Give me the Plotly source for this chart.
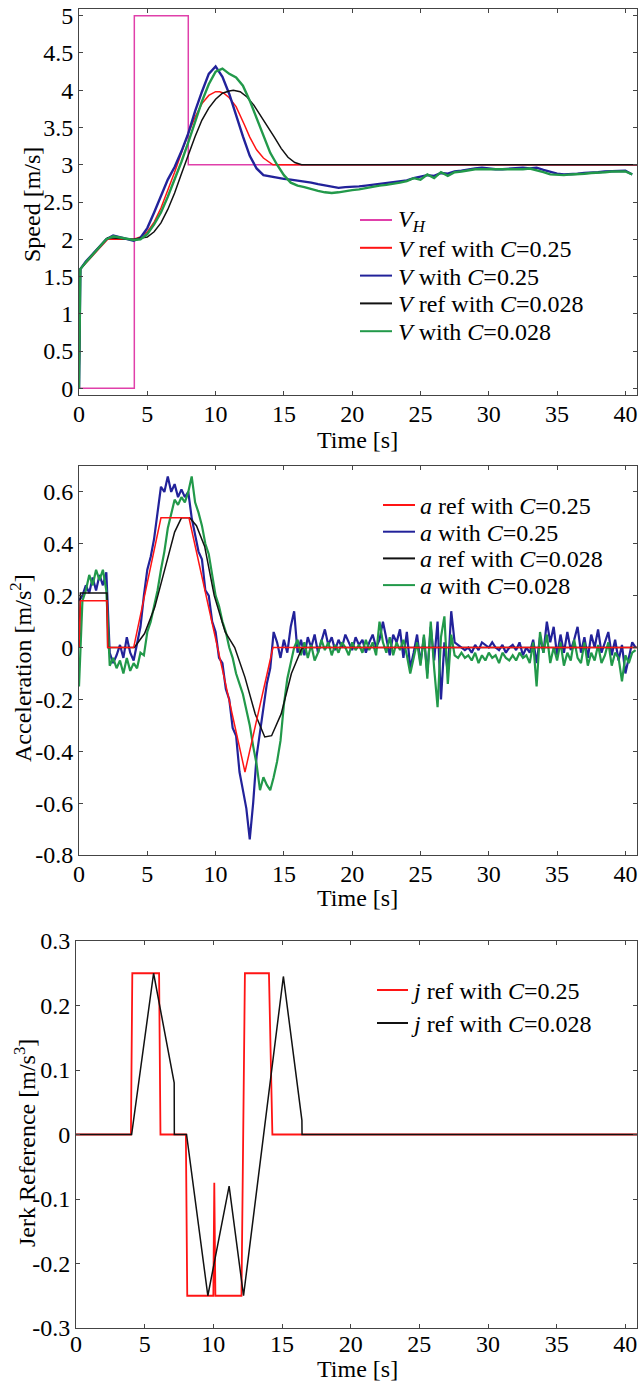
import numpy as np
import plotly.graph_objects as go

# ================= DATA =================
# ---- Speed panel ----
vh_t = [0.0, 4.05, 4.05, 8.0, 8.0, 40.85]
vh_v = [0.0, 0.0, 5.0, 5.0, 3.0, 3.0]

vref025_t = [0, 0.1, 1.0, 2.1, 4.0, 4.5, 5.0, 5.5, 6.0, 6.5, 7.0, 7.5, 8.0, 8.5, 9.0, 9.5,
             10.0, 10.3, 10.6, 11.0, 11.5, 12.1, 12.5, 13.0, 13.5, 14.2, 40.85]
vref025_v = [0, 1.6, 1.78, 2.0, 2.0, 2.03, 2.1, 2.23, 2.42, 2.65, 2.9, 3.16, 3.42, 3.64, 3.82, 3.93,
             3.98, 3.98, 3.96, 3.9, 3.78, 3.54, 3.37, 3.2, 3.09, 3.0, 3.0]

vref028_t = [0, 0.1, 1.0, 2.1, 4.0, 5.0, 5.5, 6.0, 6.5, 7.0, 7.5, 8.0, 8.5, 9.0, 9.5, 10.0, 10.5,
             11.0, 11.3, 11.8, 12.3, 12.8, 13.3, 13.8, 14.3, 14.8, 15.3, 15.8, 16.3, 40.85]
vref028_v = [0, 1.6, 1.8, 2.02, 2.0, 2.03, 2.1, 2.22, 2.4, 2.62, 2.88, 3.14, 3.38, 3.6, 3.76, 3.88, 3.96,
             3.99, 4.0, 3.98, 3.91, 3.8, 3.66, 3.52, 3.37, 3.22, 3.1, 3.03, 3.0, 3.0]

# measured speed: samples at t = 0, 0.1, then every 0.5 s from 0.5 s
v025_meas = [0.0, 1.6,
             1.7, 1.8, 1.9, 2.0, 2.05, 2.03, 2.01, 1.98,
             2.02, 2.15, 2.36, 2.58, 2.8, 2.97, 3.18, 3.42,
             3.72, 3.98, 4.22, 4.32, 4.18, 3.95, 3.66, 3.38,
             3.12, 2.95, 2.86, 2.84, 2.83, 2.81, 2.8, 2.79,
             2.77, 2.76, 2.74, 2.72, 2.7, 2.69, 2.7, 2.7,
             2.71, 2.72, 2.73, 2.74, 2.75, 2.76, 2.78, 2.79,
             2.82, 2.84, 2.86, 2.85, 2.89, 2.88, 2.91, 2.92,
             2.94, 2.95, 2.96, 2.95, 2.94, 2.94, 2.95, 2.95,
             2.96, 2.95, 2.96, 2.93, 2.9, 2.88, 2.87, 2.87,
             2.88, 2.89, 2.9, 2.9, 2.91, 2.91, 2.92, 2.92,
             2.87]
v028_meas = [0.0, 1.6,
             1.69, 1.79, 1.9, 2.0, 2.04, 2.02, 2.0, 1.99,
             2.0, 2.07, 2.2, 2.36, 2.57, 2.8, 3.04, 3.3,
             3.58, 3.85, 4.08, 4.25, 4.29, 4.22, 4.17, 4.06,
             3.86, 3.63, 3.38, 3.16, 3.0, 2.86, 2.76, 2.72,
             2.7, 2.67, 2.65, 2.63, 2.62, 2.63, 2.64, 2.66,
             2.67, 2.69, 2.7, 2.72, 2.73, 2.74, 2.76, 2.78,
             2.82, 2.8, 2.87, 2.82, 2.9, 2.85, 2.9, 2.91,
             2.93, 2.94, 2.94, 2.94, 2.93, 2.93, 2.94, 2.94,
             2.94, 2.95, 2.93, 2.9, 2.87, 2.86, 2.86, 2.87,
             2.87, 2.88, 2.89, 2.9, 2.9, 2.91, 2.91, 2.91,
             2.87]

# ---- Acceleration panel ----
aref025_t = [0, 0.1, 2.05, 2.1, 4.0, 6.0, 8.05, 12.15, 14.2, 40.85]
aref025_v = [0, 0.18, 0.18, 0, 0, 0.5, 0.5, -0.48, 0, 0]

aref028_t = [0, 0.1, 2.05, 2.1, 4.05, 4.8, 5.55, 6.3, 7.0, 7.5, 8.1, 8.6, 9.2, 9.9, 10.7, 11.4,
             12.15, 12.9, 13.6, 14.1, 14.8, 15.55, 16.3, 16.45, 40.85]
aref028_v = [0, 0.21, 0.21, 0, 0, 0.054, 0.156, 0.30, 0.445, 0.5, 0.5, 0.47, 0.39, 0.2, 0.06, 0.0,
             -0.115, -0.256, -0.345, -0.34, -0.256, -0.1, -0.005, 0, 0]

# measured acceleration, one sample every 0.25 s from 0 s
a025_meas = [0.18, 0.2, 0.24, 0.21, 0.27, 0.22, 0.28, 0.24,
             0.29, -0.02, -0.06, -0.03, 0.01, -0.04, 0.04, -0.02,
             -0.05, 0.02, 0.08, 0.2, 0.3, 0.35, 0.42, 0.52,
             0.62, 0.6, 0.66, 0.6, 0.63, 0.58, 0.61, 0.58,
             0.6, 0.5, 0.44, 0.37, 0.34, 0.22, 0.2, 0.1,
             0.06, -0.04, -0.06, -0.16, -0.2, -0.31, -0.34, -0.48,
             -0.55, -0.62, -0.74, -0.6, -0.42, -0.33, -0.24, -0.14,
             -0.08, 0.06, 0.02, -0.04, 0.03, -0.02, 0.08, 0.14,
             -0.02, 0.03, -0.03, 0.04, 0.0, 0.05, -0.02, 0.03,
             0.07, 0.01, 0.04, -0.01, 0.03, 0.0, 0.05, 0.02,
             -0.01, 0.04, 0.01, 0.03, -0.02, 0.02, 0.05, 0.0,
             0.03, 0.1, 0.04, -0.03, 0.05, 0.02, 0.07, -0.04,
             0.06, -0.08, -0.02, 0.05, -0.06, 0.04, -0.1, 0.08,
             -0.05, 0.1, -0.2, 0.02, -0.1, 0.14, 0.02, 0.01,
             0.0, -0.01, 0.0, -0.02, 0.01, -0.01, 0.02, 0.01,
             0.0, 0.02, 0.0, -0.01, 0.01, -0.02, 0.0, 0.01,
             -0.01, 0.02, -0.03, 0.0, -0.02, 0.03, -0.06, 0.04,
             -0.02, 0.1, 0.02, 0.08, -0.03, 0.05, -0.02, 0.06,
             -0.01, 0.03, 0.08, -0.02, 0.04, -0.04, 0.05, 0.0,
             0.07, -0.02, 0.02, 0.06, -0.03, 0.03, -0.05, 0.01,
             -0.1, -0.04, 0.02, 0.0]
a028_meas = [-0.15, 0.18, 0.22, 0.28, 0.24, 0.3, 0.26, 0.3,
             0.22, -0.07, -0.04, -0.08, -0.05, -0.1, -0.04, -0.09,
             -0.06, -0.08, -0.02, -0.03, 0.06, 0.1, 0.16, 0.22,
             0.3, 0.37, 0.46, 0.52, 0.57, 0.55, 0.58, 0.56,
             0.6, 0.66, 0.56, 0.52, 0.47, 0.4, 0.36, 0.28,
             0.2, 0.16, 0.1, 0.06, 0.0, -0.04, -0.1, -0.14,
             -0.18, -0.24, -0.3, -0.38, -0.45, -0.55, -0.5, -0.53,
             -0.55, -0.5, -0.44, -0.36, -0.22, -0.12, -0.06, 0.0,
             0.03, -0.03, 0.02, -0.04, 0.01, -0.05, -0.02, 0.03,
             -0.01, 0.02, -0.03, 0.01, -0.02, 0.02, 0.0, -0.03,
             0.02, -0.01, 0.01, -0.02, 0.03, -0.01, 0.02, -0.03,
             0.1, 0.02, -0.02, 0.04, -0.03, 0.02, -0.01, 0.03,
             -0.03, -0.1, -0.04, 0.02, -0.07, 0.05, -0.12, 0.1,
             -0.08, -0.23, 0.04, 0.12, -0.14, 0.05, -0.03, -0.04,
             -0.02, -0.04, -0.03, -0.05, -0.02, -0.06, -0.03, -0.05,
             -0.02, -0.04, -0.03, -0.06, -0.02, -0.04, -0.05, -0.03,
             -0.05, -0.02, -0.04, -0.03, -0.06, 0.02, -0.15, 0.06,
             -0.02, 0.05, -0.06, 0.0, -0.05, 0.02, -0.07, -0.02,
             -0.05, 0.03, -0.04, -0.06, 0.02, -0.07, -0.02, -0.05,
             0.01, -0.06, -0.03, 0.02, -0.07, -0.02, -0.04, -0.13,
             -0.03, -0.06, -0.02, -0.01]

# ---- Jerk panel ----
jref025_t = [0, 4.0, 4.1, 6.05, 6.15, 8.0, 8.1, 10.0, 10.07, 10.15, 12.05, 12.3, 14.05, 14.3, 40.85]
jref025_v = [0, 0, 0.25, 0.25, 0, 0, -0.25, -0.25, -0.075, -0.25, -0.25, 0.25, 0.25, 0, 0]

jref028_t = [0, 4.05, 5.65, 7.15, 7.16, 8.05, 9.6, 11.15, 12.2, 15.1, 16.45, 16.46, 40.85]
jref028_v = [0, 0, 0.25, 0.08, 0, 0, -0.25, -0.08, -0.25, 0.245, 0.022, 0, 0]

x_ticks = [0, 5, 10, 15, 20, 25, 30, 35, 40]
speed_ticks = [0, 0.5, 1, 1.5, 2, 2.5, 3, 3.5, 4, 4.5, 5]
speed_ticktext = ["0", "0.5", "1", "1.5", "2", "2.5", "3", "3.5", "4", "4.5", "5"]
acc_ticks = [-0.8, -0.6, -0.4, -0.2, 0, 0.2, 0.4, 0.6]
acc_ticktext = ["-0.8", "-0.6", "-0.4", "-0.2", "0", "0.2", "0.4", "0.6"]
jerk_ticks = [-0.3, -0.2, -0.1, 0, 0.1, 0.2, 0.3]
jerk_ticktext = ["-0.3", "-0.2", "-0.1", "0", "0.1", "0.2", "0.3"]

speed_labels = ["<i>V<sub>H</sub></i>", "<i>V</i> ref with <i>C</i>=0.25", "<i>V</i> with <i>C</i>=0.25",
                "<i>V</i> ref with <i>C</i>=0.028", "<i>V</i> with <i>C</i>=0.028"]
acc_labels = ["<i>a</i> ref with <i>C</i>=0.25", "<i>a</i> with <i>C</i>=0.25",
              "<i>a</i> ref with <i>C</i>=0.028", "<i>a</i> with <i>C</i>=0.028"]
jerk_labels = ["<i>j</i> ref with <i>C</i>=0.25", "<i>j</i> ref with <i>C</i>=0.028"]

# ================= FIGURE =================
speed_meas_t = [0.0, 0.1] + [0.5 * k for k in range(1, len(v025_meas) - 1)]
acc_meas_t = [0.25 * k for k in range(len(a025_meas))]
acc_meas_t2 = [0.25 * k for k in range(len(a028_meas))]

MAG = "#e040aa"
RED = "#ff1414"
BLUE = "#22229a"
BLK = "#111111"
GRN = "#22994a"
FONT = "Liberation Serif"
FS = 24
W, H = 639, 1382

fig = go.Figure()

def add(x, y, name, color, width, xa, ya):
    fig.add_trace(go.Scatter(x=x, y=y, mode="lines", name=name,
                             line=dict(color=color, width=width),
                             xaxis=xa, yaxis=ya, showlegend=False))

# speed
add(vh_t, vh_v, speed_labels[0], MAG, 1.5, "x", "y")
add(vref025_t, vref025_v, speed_labels[1], RED, 1.5, "x", "y")
add(speed_meas_t, v025_meas, speed_labels[2], BLUE, 2.4, "x", "y")
add(vref028_t, vref028_v, speed_labels[3], BLK, 1.5, "x", "y")
add(speed_meas_t[:len(v028_meas)], v028_meas, speed_labels[4], GRN, 2.4, "x", "y")

# acceleration
add(acc_meas_t, a025_meas, acc_labels[1], BLUE, 2.2, "x2", "y2")
add(acc_meas_t2, a028_meas, acc_labels[3], GRN, 2.2, "x2", "y2")
add(aref028_t, aref028_v, acc_labels[2], BLK, 1.5, "x2", "y2")
add(aref025_t, aref025_v, acc_labels[0], RED, 1.5, "x2", "y2")

# jerk
add(jref025_t, jref025_v, jerk_labels[0], RED, 1.8, "x3", "y3")
add(jref028_t, jref028_v, jerk_labels[1], BLK, 1.5, "x3", "y3")

axis_common = dict(showline=True, mirror="allticks", linecolor="#444", linewidth=1,
                   ticks="inside", ticklen=4, tickcolor="#444", showgrid=False, zeroline=False,
                   automargin=False,
                   tickfont=dict(family=FONT, size=FS, color="black"))
xaxis_common = dict(axis_common, ticklabelstandoff=-3)
xaxis3_common = dict(axis_common, ticklabelstandoff=-6)

xr = [0, 40.85]
fig.update_layout(
    template="none",
    width=W, height=H, margin=dict(l=0, r=0, t=0, b=0, pad=0), autosize=False,
    paper_bgcolor="white", plot_bgcolor="white",
    font=dict(family=FONT, size=FS, color="black"),
    showlegend=False,
    xaxis=dict(domain=[79 / W, 637 / W], range=xr, anchor="y", tickvals=x_ticks, **xaxis_common),
    yaxis=dict(domain=[1 - 395 / H, 1 - 9 / H], range=[-0.09, 5.09], anchor="x",
               tickvals=speed_ticks, ticktext=speed_ticktext, **axis_common),
    xaxis2=dict(domain=[79 / W, 637 / W], range=xr, anchor="y2", tickvals=x_ticks, **xaxis_common),
    yaxis2=dict(domain=[1 - 855 / H, 1 - 466 / H], range=[-0.8, 0.7], anchor="x2",
                tickvals=acc_ticks, ticktext=acc_ticktext, **axis_common),
    xaxis3=dict(domain=[76 / W, 637 / W], range=xr, anchor="y3", tickvals=x_ticks, **xaxis3_common),
    yaxis3=dict(domain=[1 - 1328 / H, 1 - 941 / H], range=[-0.3, 0.3], anchor="x3",
                tickvals=jerk_ticks, ticktext=jerk_ticktext, **axis_common),
)

def ann(text, x, y, angle=0, xanchor="center"):
    fig.add_annotation(text=text, x=x / W, y=1 - y / H, xref="paper", yref="paper",
                       showarrow=False, textangle=angle, xanchor=xanchor, yanchor="middle",
                       font=dict(family=FONT, size=FS, color="black"))

ann("Speed [m/s]", 32, 205, -90)
ann("Acceleration [m/s<sup>2</sup>]", 21, 668, -90)
ann("Jerk Reference [m/s<sup>3</sup>]", 25, 1143, -90)
ann("Time [s]", 357, 440)
ann("Time [s]", 357, 898)
ann("Time [s]", 357, 1369)

# legends (line sample + text), positioned like the MATLAB legend boxes
def legend_block(labels, colors, x_line0, x_line1, x_text, y_first, dy):
    for i, (lab, col) in enumerate(zip(labels, colors)):
        yy = y_first + dy * i
        fig.add_shape(type="line", xref="paper", yref="paper",
                      x0=x_line0 / W, x1=x_line1 / W, y0=1 - yy / H, y1=1 - yy / H,
                      line=dict(color=col, width=2))
        ann(lab, x_text, yy + 1, 0, "left")

legend_block(speed_labels, [MAG, RED, BLUE, BLK, GRN], 360, 392, 396, 220, 27.8)
legend_block(acc_labels, [RED, BLUE, BLK, GRN], 383, 415, 418, 505, 26.7)
legend_block(jerk_labels, [RED, BLK], 377, 408, 409, 990, 33)

fig.write_html("out.html", config={"displayModeBar": False},
               post_script="document.body.style.margin='0';document.body.style.padding='0';")
